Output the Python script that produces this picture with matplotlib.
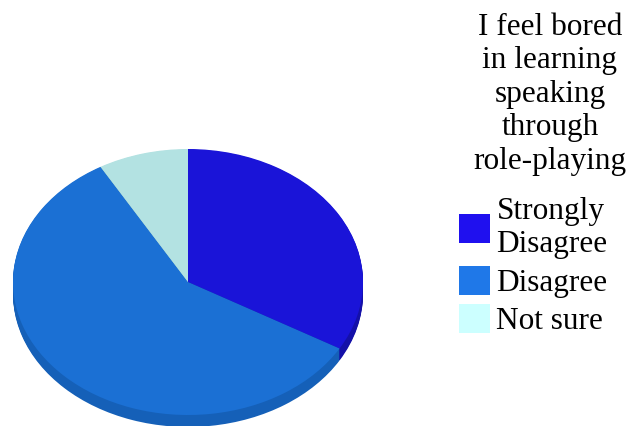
import numpy as np
import matplotlib.pyplot as plt
from matplotlib.patches import Rectangle

# survey answers (12 students)
categories = ['Strongly\nDisagree', 'Disagree', 'Not sure']
counts = [4, 7, 1]
title = 'I feel bored\nin learning\nspeaking\nthrough\nrole-playing'

top_colors = ['#1a14d8', '#1b70d4', '#b3e2e2']
side_colors = ['#1410a8', '#1560b8', '#8fb8b8']
legend_colors = ['#1f10ef', '#1f78e8', '#ccffff']

plt.rcParams['font.family'] = ['Liberation Serif', 'DejaVu Serif']

W, H = 629, 426
fig = plt.figure(figsize=(W / 100, H / 100), dpi=100)

# pie face: centre (188, 282) px, radii 175 x 133 px
ax = fig.add_axes([13 / W, (H - 415) / H, 350 / W, 266 / H])
depth = 0.09
for off in np.linspace(depth, 0.005, 12):
    ax.pie(counts, colors=side_colors, startangle=90, counterclock=False,
           center=(0, -off), radius=1.0, wedgeprops=dict(linewidth=0))
ax.pie(counts, colors=top_colors, startangle=90, counterclock=False,
       radius=1.0, wedgeprops=dict(linewidth=0))
ax.set_aspect('auto')
ax.set_xlim(-1, 1)
ax.set_ylim(-1, 1)
for p in ax.patches:
    p.set_clip_on(False)
ax.axis('off')

fig.text(550 / W, 1 - 13 / H, title, ha='center', va='top', fontsize=22.5,
         linespacing=1.2)

handles = [Rectangle((0, 0), 1, 1, facecolor=c, edgecolor='none') for c in legend_colors]
leg = fig.legend(handles, categories, loc='upper left',
                 bbox_to_anchor=(459 / W, 1 - 197 / H),
                 frameon=False, fontsize=22.5, handlelength=1.0, handleheight=1.05,
                 handletextpad=0.2, labelspacing=0.2, borderpad=0, borderaxespad=0)
for t in leg.get_texts():
    t.set_linespacing(1.2)

fig.savefig('out.png', dpi=100)
